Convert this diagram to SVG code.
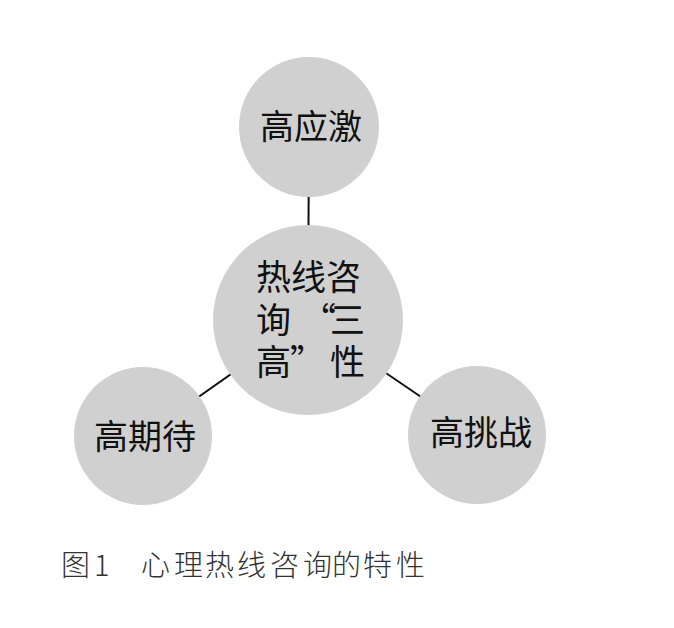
<svg xmlns="http://www.w3.org/2000/svg" width="674" height="628" viewBox="0 0 674 628">
<style>
.node circle{fill:#d0d0d0;}
.lbl{font-family:"Noto Sans CJK SC","Noto Sans",sans-serif;fill:#111;font-size:34px;}
.cap{font-family:"Noto Sans CJK SC","Noto Sans",sans-serif;fill:#333;font-size:29px;font-weight:300;}
.edge{stroke:#111;stroke-width:2;fill:none;}
</style>
<rect width="674" height="628" fill="#fff"/>
<g id="connectors">
<line class="edge" x1="309" y1="127" x2="308" y2="320"/>
<line class="edge" x1="143" y1="436" x2="308" y2="320"/>
<line class="edge" x1="477" y1="435" x2="308" y2="320"/>
</g>
<g id="node-top" class="node">
<circle cx="309" cy="127" r="70"/>
<text class="lbl" x="311" y="139" text-anchor="middle">高应激</text>
</g>
<g id="node-left" class="node">
<circle cx="143" cy="436" r="69"/>
<text class="lbl" x="145" y="449" text-anchor="middle">高期待</text>
</g>
<g id="node-right" class="node">
<circle cx="477" cy="435" r="69"/>
<text class="lbl" x="481" y="445" text-anchor="middle">高挑战</text>
</g>
<g id="node-center" class="node">
<circle cx="308" cy="320" r="95"/>
<text class="lbl" style="font-size:35px" x="256" y="290">热线咨</text>
<text class="lbl" style="font-size:35px" y="333"><tspan x="256">询</tspan><tspan x="301">“</tspan><tspan x="330">三</tspan></text>
<text class="lbl" style="font-size:35px" y="375"><tspan x="256">高</tspan><tspan x="290">”</tspan><tspan x="330">性</tspan></text>
</g>
<g id="caption">
<text class="cap" y="576"><tspan x="61">图</tspan><tspan x="94">1</tspan><tspan x="141">心</tspan><tspan x="174">理</tspan><tspan x="205">热</tspan><tspan x="237">线</tspan><tspan x="270">咨</tspan><tspan x="303">询</tspan><tspan x="332">的</tspan><tspan x="363">特</tspan><tspan x="396">性</tspan></text>
</g>
</svg>
